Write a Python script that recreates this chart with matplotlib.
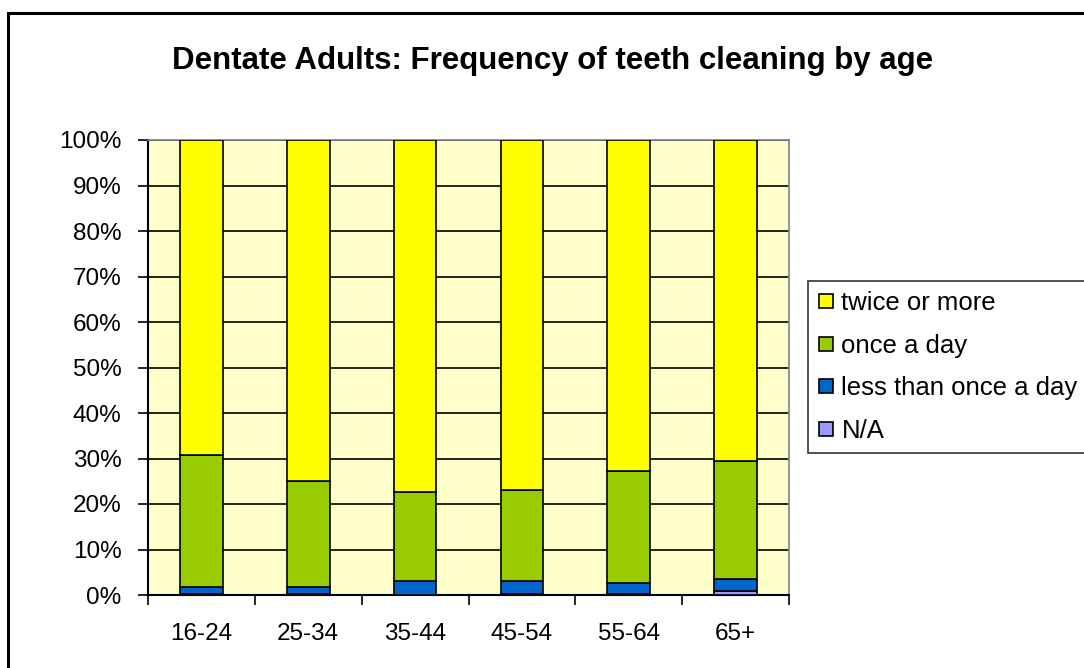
import matplotlib
matplotlib.use("Agg")
import matplotlib.pyplot as plt
import numpy as np
from matplotlib.patches import Rectangle
from matplotlib.lines import Line2D

categories = ["16-24", "25-34", "35-44", "45-54", "55-64", "65+"]
na = [0.3, 0.3, 0.1, 0.3, 0.3, 0.9]
less_than_once = [1.5, 1.5, 3.0, 2.8, 2.3, 2.6]
once_a_day = [29.0, 23.3, 19.5, 20.0, 24.7, 26.0]
twice_or_more = [100 - a - b - c for a, b, c in zip(na, less_than_once, once_a_day)]

series = [
    ("N/A", na, "#9999FF"),
    ("less than once a day", less_than_once, "#0066CC"),
    ("once a day", once_a_day, "#99CC00"),
    ("twice or more", twice_or_more, "#FFFF00"),
]

plt.rcParams['font.family'] = ['Liberation Sans', 'DejaVu Sans']

W, H = 1084, 668
fig = plt.figure(figsize=(W / 100, H / 100), dpi=100)
fig.patch.set_facecolor("white")

ax = fig.add_axes([148 / W, 1 - 595 / H, (789 - 148) / W, (595 - 140) / H])
ax.set_facecolor("#FFFFCC")

x = np.arange(len(categories))
bottom = np.zeros(len(categories))
handles = {}
for name, vals, col in series:
    ax.bar(x, vals, width=0.4, bottom=bottom, color=col, edgecolor="black",
           linewidth=1.2, zorder=3)
    bottom += np.array(vals)
    handles[name] = Line2D([], [], marker="s", linestyle="none", markersize=10,
                           markerfacecolor=col, markeredgecolor="black",
                           markeredgewidth=1.2)

ax.set_xlim(-0.5, len(categories) - 0.5)
ax.set_ylim(0, 100)
ax.set_yticks(np.arange(0, 101, 10))
ax.set_yticklabels([f"{v}%" for v in range(0, 101, 10)], fontsize=17.5)
ax.yaxis.grid(True, color="black", linewidth=1.2, zorder=0)
ax.set_axisbelow(True)

ax.set_xticks(x)
ax.set_xticklabels(categories, fontsize=17.5)
ax.set_xticks(np.arange(-0.5, len(categories)), minor=True)
ax.tick_params(axis="x", which="major", length=0, pad=20)
ax.tick_params(axis="x", which="minor", length=7, width=1.2, direction="out")
ax.tick_params(axis="y", length=7, width=1.2, direction="out", pad=12)

for s in ["top", "right"]:
    ax.spines[s].set_color("#808080")
    ax.spines[s].set_linewidth(1.2)
for s in ["left", "bottom"]:
    ax.spines[s].set_color("black")
    ax.spines[s].set_linewidth(1.5)

fig.text(553 / W, 1 - 61 / H, "Dentate Adults: Frequency of teeth cleaning by age",
         ha="center", va="center", fontsize=22.5, fontweight="bold")

order = ["twice or more", "once a day", "less than once a day", "N/A"]
leg = fig.legend([handles[n] for n in order], order, loc="upper left",
                 bbox_to_anchor=(808 / W, 1 - 281 / H), fontsize=18.5,
                 frameon=True, fancybox=False, edgecolor="black",
                 handlelength=0.6, handletextpad=0.3, labelspacing=0.72,
                 borderpad=0.4, borderaxespad=0)
leg.get_frame().set_linewidth(1.2)

fig.patches.append(Rectangle((8 / W, -0.05), 1.1, 1 - 13 / H + 0.05,
                             transform=fig.transFigure, fill=False,
                             edgecolor="black", linewidth=2.2))

fig.savefig("out.png", dpi=100)
